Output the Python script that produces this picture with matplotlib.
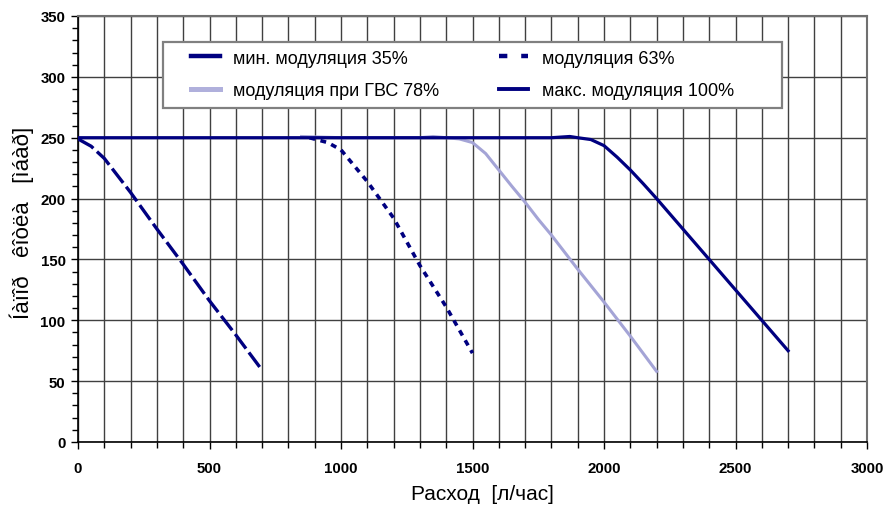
import matplotlib
matplotlib.use("Agg")
import matplotlib.pyplot as plt
from matplotlib.ticker import MultipleLocator
from matplotlib.patches import Rectangle
from matplotlib.lines import Line2D

plt.rcParams['font.family'] = ['Liberation Sans', 'DejaVu Sans']
plt.rcParams['lines.scale_dashes'] = False

# data
x35 = [0, 50, 100, 150, 200, 300, 400, 500, 600, 700]
y35 = [249, 243, 233, 219, 205, 175, 146, 116, 88, 59]

x63 = [880, 950, 1000, 1050, 1100, 1200, 1300, 1400, 1500]
y63 = [250, 246, 240, 227, 214, 184, 145, 111, 73]

x78 = [850, 1000, 1300, 1350, 1400, 1450, 1500, 1550, 1600, 1650, 1700, 1750, 1800, 1900, 2000, 2100, 2200]
y78 = [251, 250, 250, 251, 250, 249, 246, 237, 223.5, 210, 197, 183, 170, 142, 115, 87, 58]

x100 = [0, 1700, 1800, 1870, 1900, 1950, 2000, 2050, 2100, 2150, 2200, 2300, 2400, 2500, 2600, 2700]
y100 = [250, 250, 250, 251, 250, 248.5, 243.5, 234, 223.5, 212, 200, 175, 150, 125, 100, 75]

labels = ["мин. модуляция 35%", "модуляция 63%", "модуляция при ГВС 78%", "макс. модуляция 100%"]
xlabel = "Расход  [л/час]"
ylabel = "Íàïîð   êîòëà   [ìáàð]"

navy = '#000080'
lav = '#a4a4d6'

fig = plt.figure(figsize=(8.85, 5.06), dpi=100)
ax = fig.add_axes([78/885, (506-443)/506, (867-78)/885, (443-17)/506])

ax.plot(x35, y35, color=navy, lw=2.4, ls=(0, (13, 3.5)), dash_capstyle='butt', zorder=3)
ax.plot(x63, y63, color=navy, lw=2.6, ls=(0, (4.2, 4.0)), dash_capstyle='butt', zorder=3)
ax.plot(x78, y78, color=lav, lw=2.2, zorder=3)
ax.plot(x100, y100, color=navy, lw=2.3, zorder=4)

ax.set_xlim(0, 3000)
ax.set_ylim(0, 350)
ax.xaxis.set_major_locator(MultipleLocator(500))
ax.xaxis.set_minor_locator(MultipleLocator(100))
ax.yaxis.set_major_locator(MultipleLocator(50))
ax.yaxis.set_minor_locator(MultipleLocator(10))

ax.grid(True, which='major', axis='y', color='#404040', lw=1.0)
ax.grid(True, which='both', axis='x', color='#404040', lw=1.0)
ax.set_axisbelow(True)

ax.tick_params(axis='both', which='major', direction='out', length=5, width=1, color='black',
               labelsize=10.8, pad=4)
ax.tick_params(axis='both', which='minor', direction='out', length=4, width=1, color='black')
for lab in ax.get_xticklabels() + ax.get_yticklabels():
    lab.set_fontweight('bold')
ax.tick_params(axis='x', pad=9)

for s in ['left', 'bottom']:
    ax.spines[s].set_color('black')
    ax.spines[s].set_linewidth(1.2)
for s in ['top', 'right']:
    ax.spines[s].set_color('#707070')
    ax.spines[s].set_linewidth(1.5)

ax.set_xlabel(xlabel, fontsize=15)
ax.xaxis.set_label_coords(0.512, -0.098)
ax.set_ylabel(ylabel, fontsize=16)
ax.yaxis.set_label_coords(-0.056, 0.516)

# legend frame
frame = Rectangle((0.1077, 0.784), 0.8923 - 0.1077, 0.939 - 0.784, transform=ax.transAxes,
                  facecolor='white', edgecolor='#808080', lw=1.6, zorder=5)
ax.add_patch(frame)

h35 = Line2D([], [], color=navy, lw=3.2)
h63 = Line2D([], [], color=navy, lw=3.2, ls=(0, (6, 10)), dash_capstyle='butt')
h78 = Line2D([], [], color='#b0b0dc', lw=3.6)
h100 = Line2D([], [], color=navy, lw=2.8)

leg = ax.legend([h35, h78, h63, h100], [labels[0], labels[2], labels[1], labels[3]], ncol=2,
                loc='upper left', bbox_to_anchor=(0.1432, 0.921),
                fontsize=13, frameon=False, handlelength=1.6,
                handletextpad=0.75, borderaxespad=0, borderpad=0, columnspacing=3.3,
                labelspacing=0.85)
leg.set_zorder(6)

fig.savefig('out.png', dpi=100)
